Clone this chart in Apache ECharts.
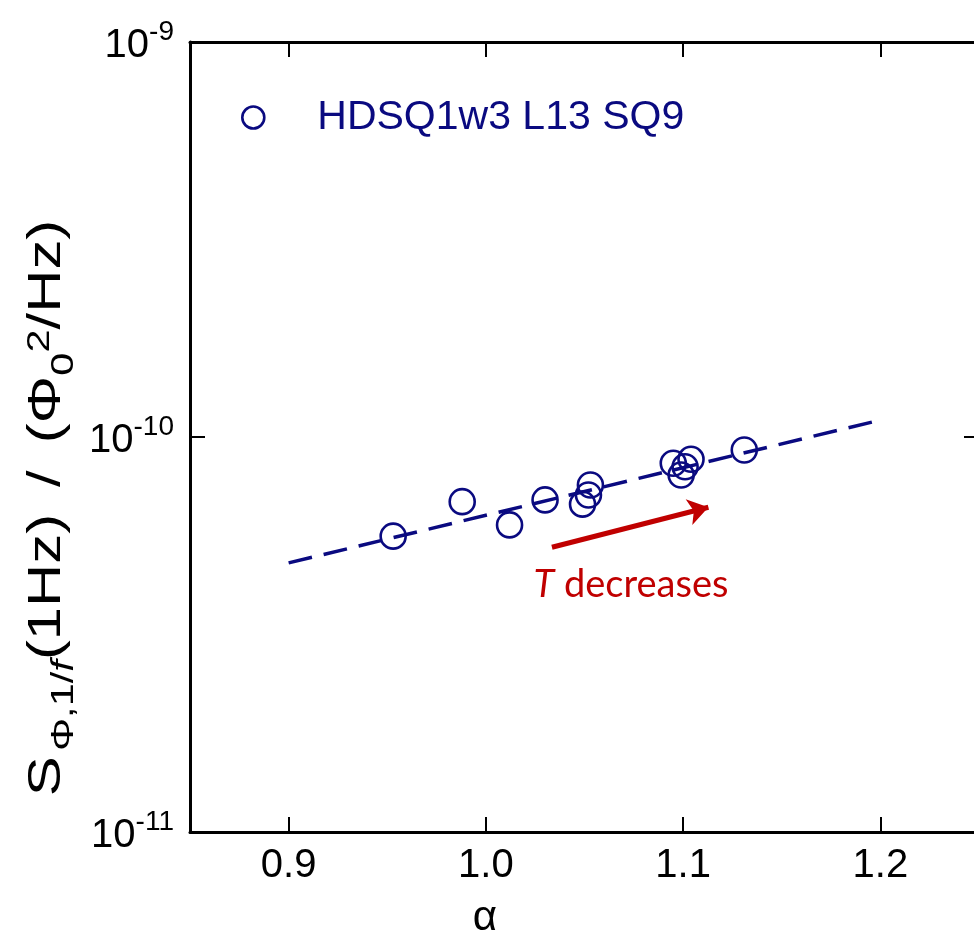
<!DOCTYPE html>
<html>
<head>
<meta charset="utf-8">
<script src="https://cdn.jsdelivr.net/npm/echarts@6/dist/echarts.min.js"></script>
<style>
html,body{margin:0;padding:0;background:#fff;}
#c{width:974px;height:942px;}
</style>
</head>
<body>
<div id="c"></div>
<script>
// ---- data ----
const seriesName = 'HDSQ1w3 L13 SQ9';
const alphaVals = [0.953, 0.988, 1.012, 1.030, 1.049, 1.052, 1.053, 1.095, 1.099, 1.101, 1.104, 1.131];
const noiseVals = [5.61e-11, 6.86e-11, 5.99e-11, 6.93e-11, 6.76e-11, 7.13e-11, 7.56e-11, 8.58e-11, 8.01e-11, 8.41e-11, 8.78e-11, 9.27e-11];
const fitAlpha = [0.9, 1.2];
const fitNoise = [4.80e-11, 1.104e-10];
const arrowAlpha = [1.0335, 1.1128];
const arrowNoise = [5.26e-11, 6.64e-11];
const xTicks = [0.9, 1.0, 1.1, 1.2];
const xRange = [0.85, 1.25];
const yRange = [1e-11, 1e-9];

const navy = '#0a0a80';
const red = '#c00000';
const font = 'Liberation Sans';

const chart = echarts.init(document.getElementById('c'), null, {renderer: 'canvas'});

const pts = alphaVals.map((a, i) => [a, noiseVals[i]]);
const fit = fitAlpha.map((a, i) => [a, fitNoise[i]]);
const arrow = arrowAlpha.map((a, i) => [a, arrowNoise[i]]);

const axisLine = {show: true, onZero: false, lineStyle: {color: '#000', width: 3}};
const axisTick = {show: true, inside: true, length: 15, lineStyle: {color: '#000', width: 2}};

const yLabelFmt = v => '{b|10}{s|' + Math.round(Math.log10(v)) + '}';
const yRich = {
  b: {fontSize: 40, fontFamily: font, color: '#000', lineHeight: 48, verticalAlign: 'bottom'},
  s: {fontSize: 28, fontFamily: font, color: '#000', lineHeight: 14, verticalAlign: 'top'}
};

chart.setOption({
  animation: false,
  backgroundColor: '#fff',
  grid: {left: 190, top: 42, width: 789, height: 790, containLabel: false, outerBoundsMode: 'none'},
  legend: {
    show: true,
    left: 236, top: 92,
    data: [{name: seriesName, icon: 'circle'}],
    itemWidth: 22, itemHeight: 22,
    itemStyle: {color: 'rgba(0,0,0,0)', borderColor: navy, borderWidth: 2.6, opacity: 1},
    textStyle: {fontSize: 41, fontFamily: font, color: navy, padding: [0, 0, 0, 48]}
  },
  xAxis: [{
    type: 'value', position: 'bottom', min: xRange[0], max: xRange[1],
    axisLine: axisLine,
    axisTick: Object.assign({}, axisTick, {customValues: xTicks}),
    axisLabel: {customValues: xTicks, formatter: v => v.toFixed(1), fontSize: 40, fontFamily: font, color: '#000', margin: 14},
    splitLine: {show: false}
  }, {
    type: 'value', position: 'top', min: xRange[0], max: xRange[1],
    axisLine: axisLine,
    axisTick: Object.assign({}, axisTick, {customValues: xTicks}),
    axisLabel: {show: false},
    splitLine: {show: false}
  }],
  yAxis: [{
    type: 'log', logBase: 10, position: 'left', min: yRange[0], max: yRange[1],
    axisLine: axisLine, axisTick: axisTick,
    axisLabel: {formatter: yLabelFmt, rich: yRich, margin: 16},
    splitLine: {show: false}, minorTick: {show: false}
  }, {
    type: 'log', logBase: 10, position: 'right', min: yRange[0], max: yRange[1],
    axisLine: axisLine, axisTick: axisTick,
    axisLabel: {show: false},
    splitLine: {show: false}
  }],
  series: [{
    name: 'fit', type: 'line', data: fit, xAxisIndex: 0, yAxisIndex: 0,
    showSymbol: false, symbol: 'none', silent: true,
    lineStyle: {color: navy, width: 3.5, type: [24, 12]}, z: 2
  }, {
    name: seriesName, type: 'scatter', data: pts, xAxisIndex: 0, yAxisIndex: 0,
    symbol: 'circle', symbolSize: 25,
    itemStyle: {color: 'rgba(0,0,0,0)', borderColor: navy, borderWidth: 2.6, opacity: 1}, z: 3
  }, {
    name: 'arrow', type: 'lines', coordinateSystem: 'cartesian2d', xAxisIndex: 0, yAxisIndex: 0,
    data: [{coords: arrow}],
    symbol: ['none', 'arrow'], symbolSize: [0, 20],
    lineStyle: {color: red, width: 5, opacity: 1, curveness: 0}, z: 4
  }],
  graphic: [{
    type: 'text', x: 52, y: 508, rotation: Math.PI / 2, scaleX: 1.3,
    style: {
      text: '{b|S}{sub|Φ,1/}{subi|f}{b|(1Hz)}{g| / }{b|(Φ}{sub0|0}{sup|2}{b|/Hz)}',
      align: 'center', verticalAlign: 'middle',
      rich: {
        b: {fontSize: 46, fontFamily: font, fill: '#000', lineHeight: 56, verticalAlign: 'top'},
        g: {fontSize: 46, fontFamily: font, fill: '#000', lineHeight: 56, verticalAlign: 'top', padding: [0, 8, 0, 8]},
        sub: {fontSize: 32, fontFamily: font, fill: '#000', lineHeight: 56, verticalAlign: 'bottom', padding: [0, 0, 0, 4]},
        sub0: {fontSize: 32, fontFamily: font, fill: '#000', lineHeight: 56, verticalAlign: 'bottom'},
        subi: {fontSize: 32, fontFamily: font, fontStyle: 'italic', fill: '#000', lineHeight: 56, verticalAlign: 'bottom'},
        sup: {fontSize: 32, fontFamily: font, fill: '#000', lineHeight: 30, verticalAlign: 'top'}
      }
    }
  }, {
    type: 'text', x: 485, y: 918,
    style: {text: 'α', fontSize: 42, fontFamily: font, fill: '#000', align: 'center', verticalAlign: 'middle'}
  }, {
    type: 'text', x: 631, y: 585,
    style: {
      text: '{i|T}{n| decreases}', align: 'center', verticalAlign: 'middle',
      rich: {
        i: {fontSize: 38, fontFamily: 'Lato', fontStyle: 'italic', fill: red},
        n: {fontSize: 38, fontFamily: 'Lato', fill: red}
      }
    }
  }]
});
</script>
</body>
</html>
